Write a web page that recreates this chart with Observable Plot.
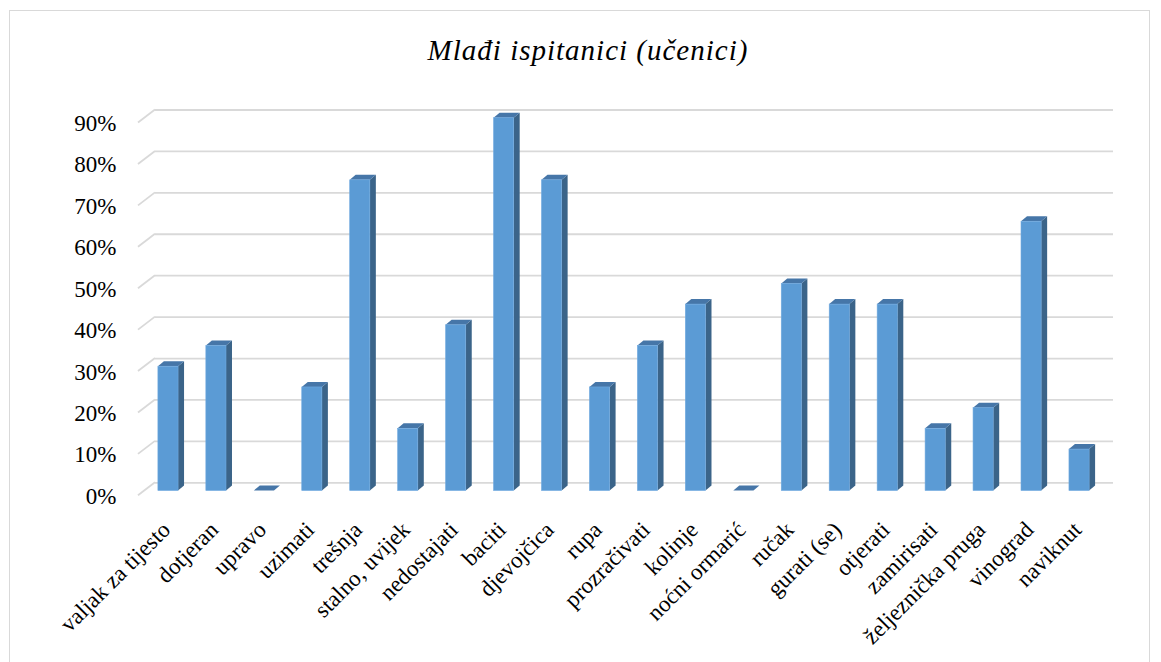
<!DOCTYPE html>
<html>
<head>
<meta charset="utf-8">
<script src="https://cdn.jsdelivr.net/npm/d3@7"></script>
<script src="https://cdn.jsdelivr.net/npm/@observablehq/plot@0.6"></script>
<style>
  html, body { margin: 0; padding: 0; background: #fff; }
  #wrap { position: relative; width: 1161px; height: 662px; overflow: hidden; }
  #frame { position: absolute; left: 9px; top: 10px; width: 1141px; height: 700px; border: 1px solid #D9D9D9; box-sizing: border-box; }
  #title { position: absolute; left: 0; top: 35px; width: 1176px; text-align: center;
    font-family: "Liberation Serif", "Times New Roman", serif; font-style: italic; font-size: 29px; letter-spacing: 1px; line-height: 30px; color: #000; }
  #chart { position: absolute; left: 0; top: 0; }
</style>
</head>
<body>
<div id="wrap">
  <div id="frame"></div>
  <div id="title">Mlađi ispitanici (učenici)</div>
  <div id="chart"></div>
</div>
<script>
const categories = ["valjak za tijesto", "dotjeran", "upravo", "uzimati", "trešnja", "stalno, uvijek", "nedostajati", "baciti", "djevojčica", "rupa", "prozračivati", "kolinje", "noćni ormarić", "ručak", "gurati (se)", "otjerati", "zamirisati", "željeznička pruga", "vinograd", "naviknut"];
const values = [0.30, 0.35, 0.00, 0.25, 0.75, 0.15, 0.40, 0.90, 0.75, 0.25, 0.35, 0.45, 0.00, 0.50, 0.45, 0.45, 0.15, 0.20, 0.65, 0.10];
const yTicks = [0, 0.1, 0.2, 0.3, 0.4, 0.5, 0.6, 0.7, 0.8, 0.9];

const data = categories.map((c, i) => ({cat: c, v: values[i]}));

const DEPTH_X = 6, DEPTH_Y = 5;       // bar extrusion
const GRID_BACK = -8.2;                // back wall offset relative to bar front
const WALL_X = 17, WALL_Y = 13;        // left wall diagonal

const chart = Plot.plot({
  width: 1161,
  height: 662,
  marginLeft: 155,
  marginRight: 48,
  marginTop: 0,
  marginBottom: 0,
  style: {fontFamily: "'Liberation Serif', 'Times New Roman', serif", fontSize: "23px", background: "transparent", color: "#000"},
  x: {domain: categories, range: [144, 1103], paddingInner: 0.58, paddingOuter: 0.29, round: false, axis: null},
  y: {domain: [0, 0.9], range: [490.5, 117.7], axis: null},
  marks: [
    // back wall gridlines
    Plot.ruleY(yTicks, {y: d => d, dy: GRID_BACK, stroke: "#D9D9D9", strokeWidth: 1.8}),
    // left wall diagonals
    Plot.ruleY(yTicks, {
      y: d => d,
      render: (index, scales, vals, dim) => {
        const g = d3.create("svg:g").attr("stroke", "#D9D9D9").attr("stroke-width", 1.8);
        for (const i of index) {
          const yb = vals.y[i] + GRID_BACK;
          g.append("line")
            .attr("x1", dim.marginLeft - WALL_X).attr("y1", yb + WALL_Y)
            .attr("x2", dim.marginLeft).attr("y2", yb);
        }
        return g.node();
      }
    }),
    // y tick labels
    Plot.axisY(yTicks, {tickSize: 0, tickPadding: 39, dy: 5.5, label: null, tickFormat: d => Math.round(d * 100) + "%", fontSize: 23, fill: "#000"}),
    // 3D side and top faces
    Plot.barY(data, {
      x: "cat", y: "v",
      render: (index, scales, vals, dim) => {
        const g = d3.create("svg:g");
        const bw = scales.x.bandwidth ? scales.x.bandwidth() : 20;
        for (const i of index) {
          const x0 = scales.x(data[i].cat);
          const yb = scales.y(0);
          const yt = scales.y(data[i].v);
          const x1 = x0 + bw;
          g.append("polygon")
            .attr("points", [[x1, yb], [x1 + DEPTH_X, yb - DEPTH_Y], [x1 + DEPTH_X, yt - DEPTH_Y], [x1, yt]].map(p => p.join(",")).join(" "))
            .attr("fill", "#3B6489");
          g.append("polygon")
            .attr("points", [[x0, yt], [x1, yt], [x1 + DEPTH_X, yt - DEPTH_Y], [x0 + DEPTH_X, yt - DEPTH_Y]].map(p => p.join(",")).join(" "))
            .attr("fill", "#4676A8");
        }
        return g.node();
      }
    }),
    // front faces
    Plot.barY(data, {x: "cat", y: "v", fill: "#5B9BD5", stroke: "#6FA9DF", strokeWidth: 0.6}),
    // category labels
    Plot.text(data, {x: "cat", y: 0, text: "cat", rotate: -45, textAnchor: "end", lineAnchor: "middle", dy: 35, dx: -2, fontSize: 23, fill: "#000"})
  ]
});
document.getElementById("chart").append(chart);
</script>
</body>
</html>
